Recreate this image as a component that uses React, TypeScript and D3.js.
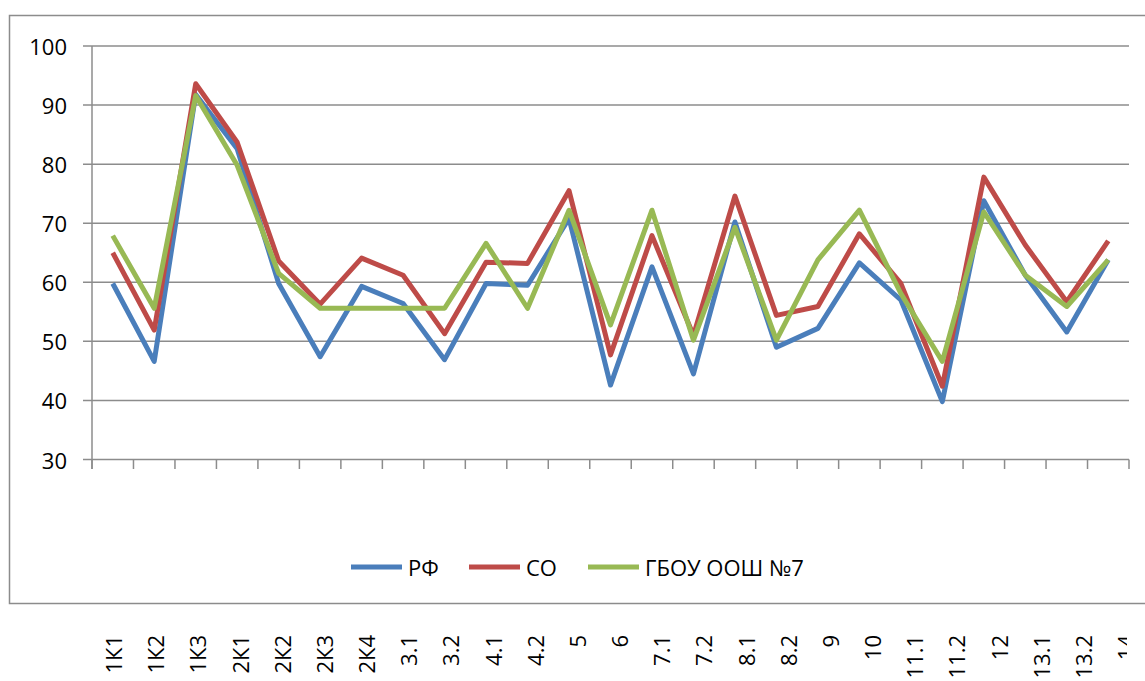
import React from "react";
import * as d3 from "d3";

const categories = ["1К1", "1К2", "1К3", "2К1", "2К2", "2К3", "2К4", "3.1", "3.2", "4.1", "4.2", "5", "6",
  "7.1", "7.2", "8.1", "8.2", "9", "10", "11.1", "11.2", "12", "13.1", "13.2", "14"];

const rf = [59.8, 46.6, 91.8, 82.6, 59.8, 47.4, 59.3, 56.4, 46.9, 59.8, 59.5, 70.8, 42.6,
  62.6, 44.5, 70.2, 49.0, 52.2, 63.3, 57.0, 39.8, 73.8, 61.2, 51.6, 63.8];
const so = [65.0, 51.9, 93.6, 83.7, 63.6, 56.3, 64.1, 61.2, 51.3, 63.4, 63.2, 75.5, 47.7,
  67.9, 51.0, 74.6, 54.4, 55.9, 68.2, 59.8, 42.4, 77.8, 66.3, 56.7, 67.0];
const school = [67.9, 55.6, 91.6, 79.8, 61.5, 55.6, 55.6, 55.6, 55.6, 66.6, 55.6, 72.2, 52.8,
  72.2, 50.2, 69.3, 50.2, 63.8, 72.2, 58.1, 46.6, 71.9, 61.2, 55.9, 63.8];

const yTicks = [30, 40, 50, 60, 70, 80, 90, 100];

const series = [
  { name: "РФ", values: rf, color: "#4A7EBB" },
  { name: "СО", values: so, color: "#BE4B48" },
  { name: "ГБОУ ООШ №7", values: school, color: "#98B954" },
];

const W = 1145;
const H = 681;
const font = "'Open Sans', sans-serif";
const grid = "#8c8c8c";

export default function App() {
  const x = d3.scaleBand().domain(categories).range([92, 1129]);
  const y = d3.scaleLinear().domain([30, 100]).range([459.5, 46]);
  const cx = (c: string) => (x(c) || 0) + x.bandwidth() / 2;
  // the category labels sit below the frame and are spread a bit wider than the plot
  const xl = d3.scalePoint().domain(categories).range([113, 1125]);

  const line = d3.line<number>()
    .x((d, i) => cx(categories[i]))
    .y(d => y(d));

  const legendX = [351, 469, 588];

  return (
    <svg width={W} height={H} style={{ position: "absolute", left: 0, top: 0 }}>
      <defs>
        <clipPath id="lblclip">
          <rect x={0} y={610} width={1127} height={80} />
        </clipPath>
      </defs>
      <rect x={0} y={0} width={W} height={H} fill="white" />
      {/* chart frame */}
      <rect x={9.5} y={15.5} width={1150} height={588} fill="none" stroke={grid} strokeWidth={1.5} />

      {yTicks.map(t => (
        <g key={t}>
          <line x1={83} x2={1129} y1={y(t)} y2={y(t)} stroke={grid} strokeWidth={1.5} />
          <text x={67} y={y(t)} textAnchor="end" dominantBaseline="central"
            fontFamily={font} fontSize={22} fill="#000">{t}</text>
        </g>
      ))}
      <line x1={92} x2={92} y1={46} y2={469} stroke={grid} strokeWidth={1.5} />
      {categories.map((c, i) => (
        <line key={"t" + i} x1={x(c)} x2={x(c)} y1={459.5} y2={469} stroke={grid} strokeWidth={1.5} />
      ))}
      <line x1={1129} x2={1129} y1={459.5} y2={469} stroke={grid} strokeWidth={1.5} />

      {series.map(s => (
        <path key={s.name} d={line(s.values) || ""} fill="none" stroke={s.color}
          strokeWidth={5} strokeLinejoin="round" />
      ))}

      {series.map((s, i) => (
        <g key={"lg" + i}>
          <line x1={legendX[i]} x2={legendX[i] + 51} y1={567} y2={567} stroke={s.color} strokeWidth={5} />
          <text x={legendX[i] + 57} y={567} dominantBaseline="central"
            fontFamily={font} fontSize={22} fill="#000">{s.name}</text>
        </g>
      ))}

      <g clipPath="url(#lblclip)">
        {categories.map(c => (
          <text key={"l" + c} transform={`translate(${xl(c)},635) rotate(-90)`}
            textAnchor="end" dominantBaseline="central"
            fontFamily={font} fontSize={22} fill="#000">{c}</text>
        ))}
      </g>
    </svg>
  );
}
